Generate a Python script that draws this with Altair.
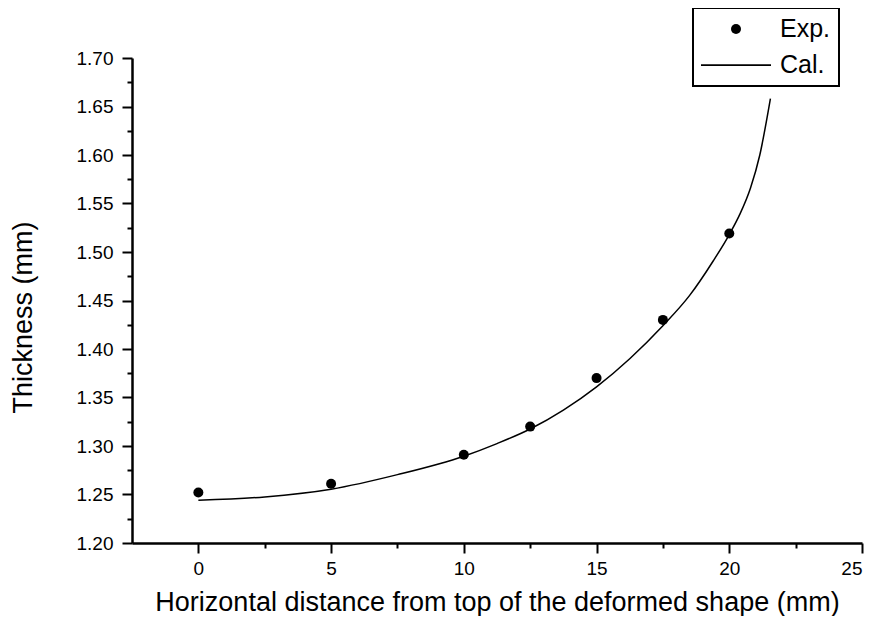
import altair as alt
import pandas as pd

# Experimental points
exp_x = [0, 5, 10, 12.5, 15, 17.5, 20]
exp_y = [1.252, 1.261, 1.291, 1.320, 1.370, 1.430, 1.519]

# Calculated curve
cal_x = [0, 2.5, 5, 7.5, 10, 11.25, 12.5, 13.75, 15, 16.25, 17.5,
         18.5, 19.4, 20, 20.4, 20.8, 21.15, 21.55]
cal_y = [1.244, 1.2475, 1.2555, 1.2705, 1.2895, 1.3025, 1.3175, 1.337, 1.361,
         1.390, 1.424, 1.455, 1.491, 1.518, 1.539, 1.566, 1.600, 1.658]

series_names = ["Exp.", "Cal."]

x_ticks = [0, 2.5, 5, 7.5, 10, 12.5, 15, 17.5, 20, 22.5, 25]
y_ticks = [1.20, 1.225, 1.25, 1.275, 1.30, 1.325, 1.35, 1.375, 1.40, 1.425,
           1.45, 1.475, 1.50, 1.525, 1.55, 1.575, 1.60, 1.625, 1.65, 1.675, 1.70]

exp_df = pd.DataFrame({"x": exp_x, "y": exp_y, "series": "Exp."})
cal_df = pd.DataFrame({"x": cal_x, "y": cal_y})

FONT = "Liberation Sans"
LINE_SYMBOL = "M-1,-0.025H1V0.025H-1Z"

x_scale = alt.Scale(domain=[-2.5, 25], nice=False, zero=False)
y_scale = alt.Scale(domain=[1.20, 1.70], nice=False, zero=False)

x_major = "abs(datum.value/5 - round(datum.value/5)) < 1e-6"
y_major = "abs(datum.value*20 - round(datum.value*20)) < 1e-6"

x_axis = alt.Axis(
    title="Horizontal distance from top of the deformed shape (mm)",
    values=x_ticks,
    labelExpr=f"{x_major} ? format(datum.value, 'd') : ''",
    tickSize={"condition": {"test": x_major, "value": 10}, "value": 5},
    tickWidth=2, tickColor="black",
    domainColor="black", domainWidth=2.5,
    grid=False, zindex=1,
    labelFont=FONT, labelFontSize=19, labelColor="black", labelPadding=6,
    titleFont=FONT, titleFontSize=27, titleFontWeight="normal", titleColor="black",
    titlePadding=11,
)
y_axis = alt.Axis(
    title="Thickness (mm)",
    values=y_ticks,
    labelExpr=f"{y_major} ? format(datum.value, '.2f') : ''",
    tickSize={"condition": {"test": y_major, "value": 10}, "value": 5},
    tickWidth=2, tickColor="black",
    domainColor="black", domainWidth=2.5,
    grid=False, zindex=1,
    labelFont=FONT, labelFontSize=19, labelColor="black", labelPadding=9,
    titleFont=FONT, titleFontSize=27, titleFontWeight="normal", titleColor="black",
    titlePadding=39, titleY=259,
)

line = alt.Chart(cal_df).mark_line(color="black", strokeWidth=1.5, interpolate="monotone").encode(
    x=alt.X("x:Q", scale=x_scale, axis=x_axis),
    y=alt.Y("y:Q", scale=y_scale, axis=y_axis),
)

legend = alt.Legend(
    title=None, orient="none", legendX=561, legendY=-50,
    strokeColor="black", fillColor="white", padding=8, cornerRadius=0,
    clipHeight=26, rowPadding=10,
    labelFont=FONT, labelFontSize=25, labelColor="black", labelOffset=9,
    symbolFillColor="black", symbolStrokeWidth=0, symbolOpacity=1,
)

points = alt.Chart(exp_df).mark_point(filled=True, color="black", strokeWidth=0, opacity=1).encode(
    x=alt.X("x:Q", scale=x_scale, axis=x_axis),
    y=alt.Y("y:Q", scale=y_scale, axis=y_axis),
    shape=alt.Shape("series:O", scale=alt.Scale(domain=series_names, range=["circle", LINE_SYMBOL]),
                    legend=legend),
    size=alt.Size("series:O", scale=alt.Scale(domain=series_names, range=[100, 4900]),
                  legend=legend),
)

chart = alt.layer(line, points).properties(
    width=730, height=485,
    autosize=alt.AutoSizeParams(type="none"),
    padding={"left": 124, "top": 50, "right": 6, "bottom": 73},
).configure(font=FONT).configure_view(stroke=None).configure_axis(
    domainColor="black", tickColor="black", domainOpacity=1, tickOpacity=1
).configure_legend(strokeWidth=2)

chart.save("out.html", embed_options={"renderer": "svg", "actions": False})
